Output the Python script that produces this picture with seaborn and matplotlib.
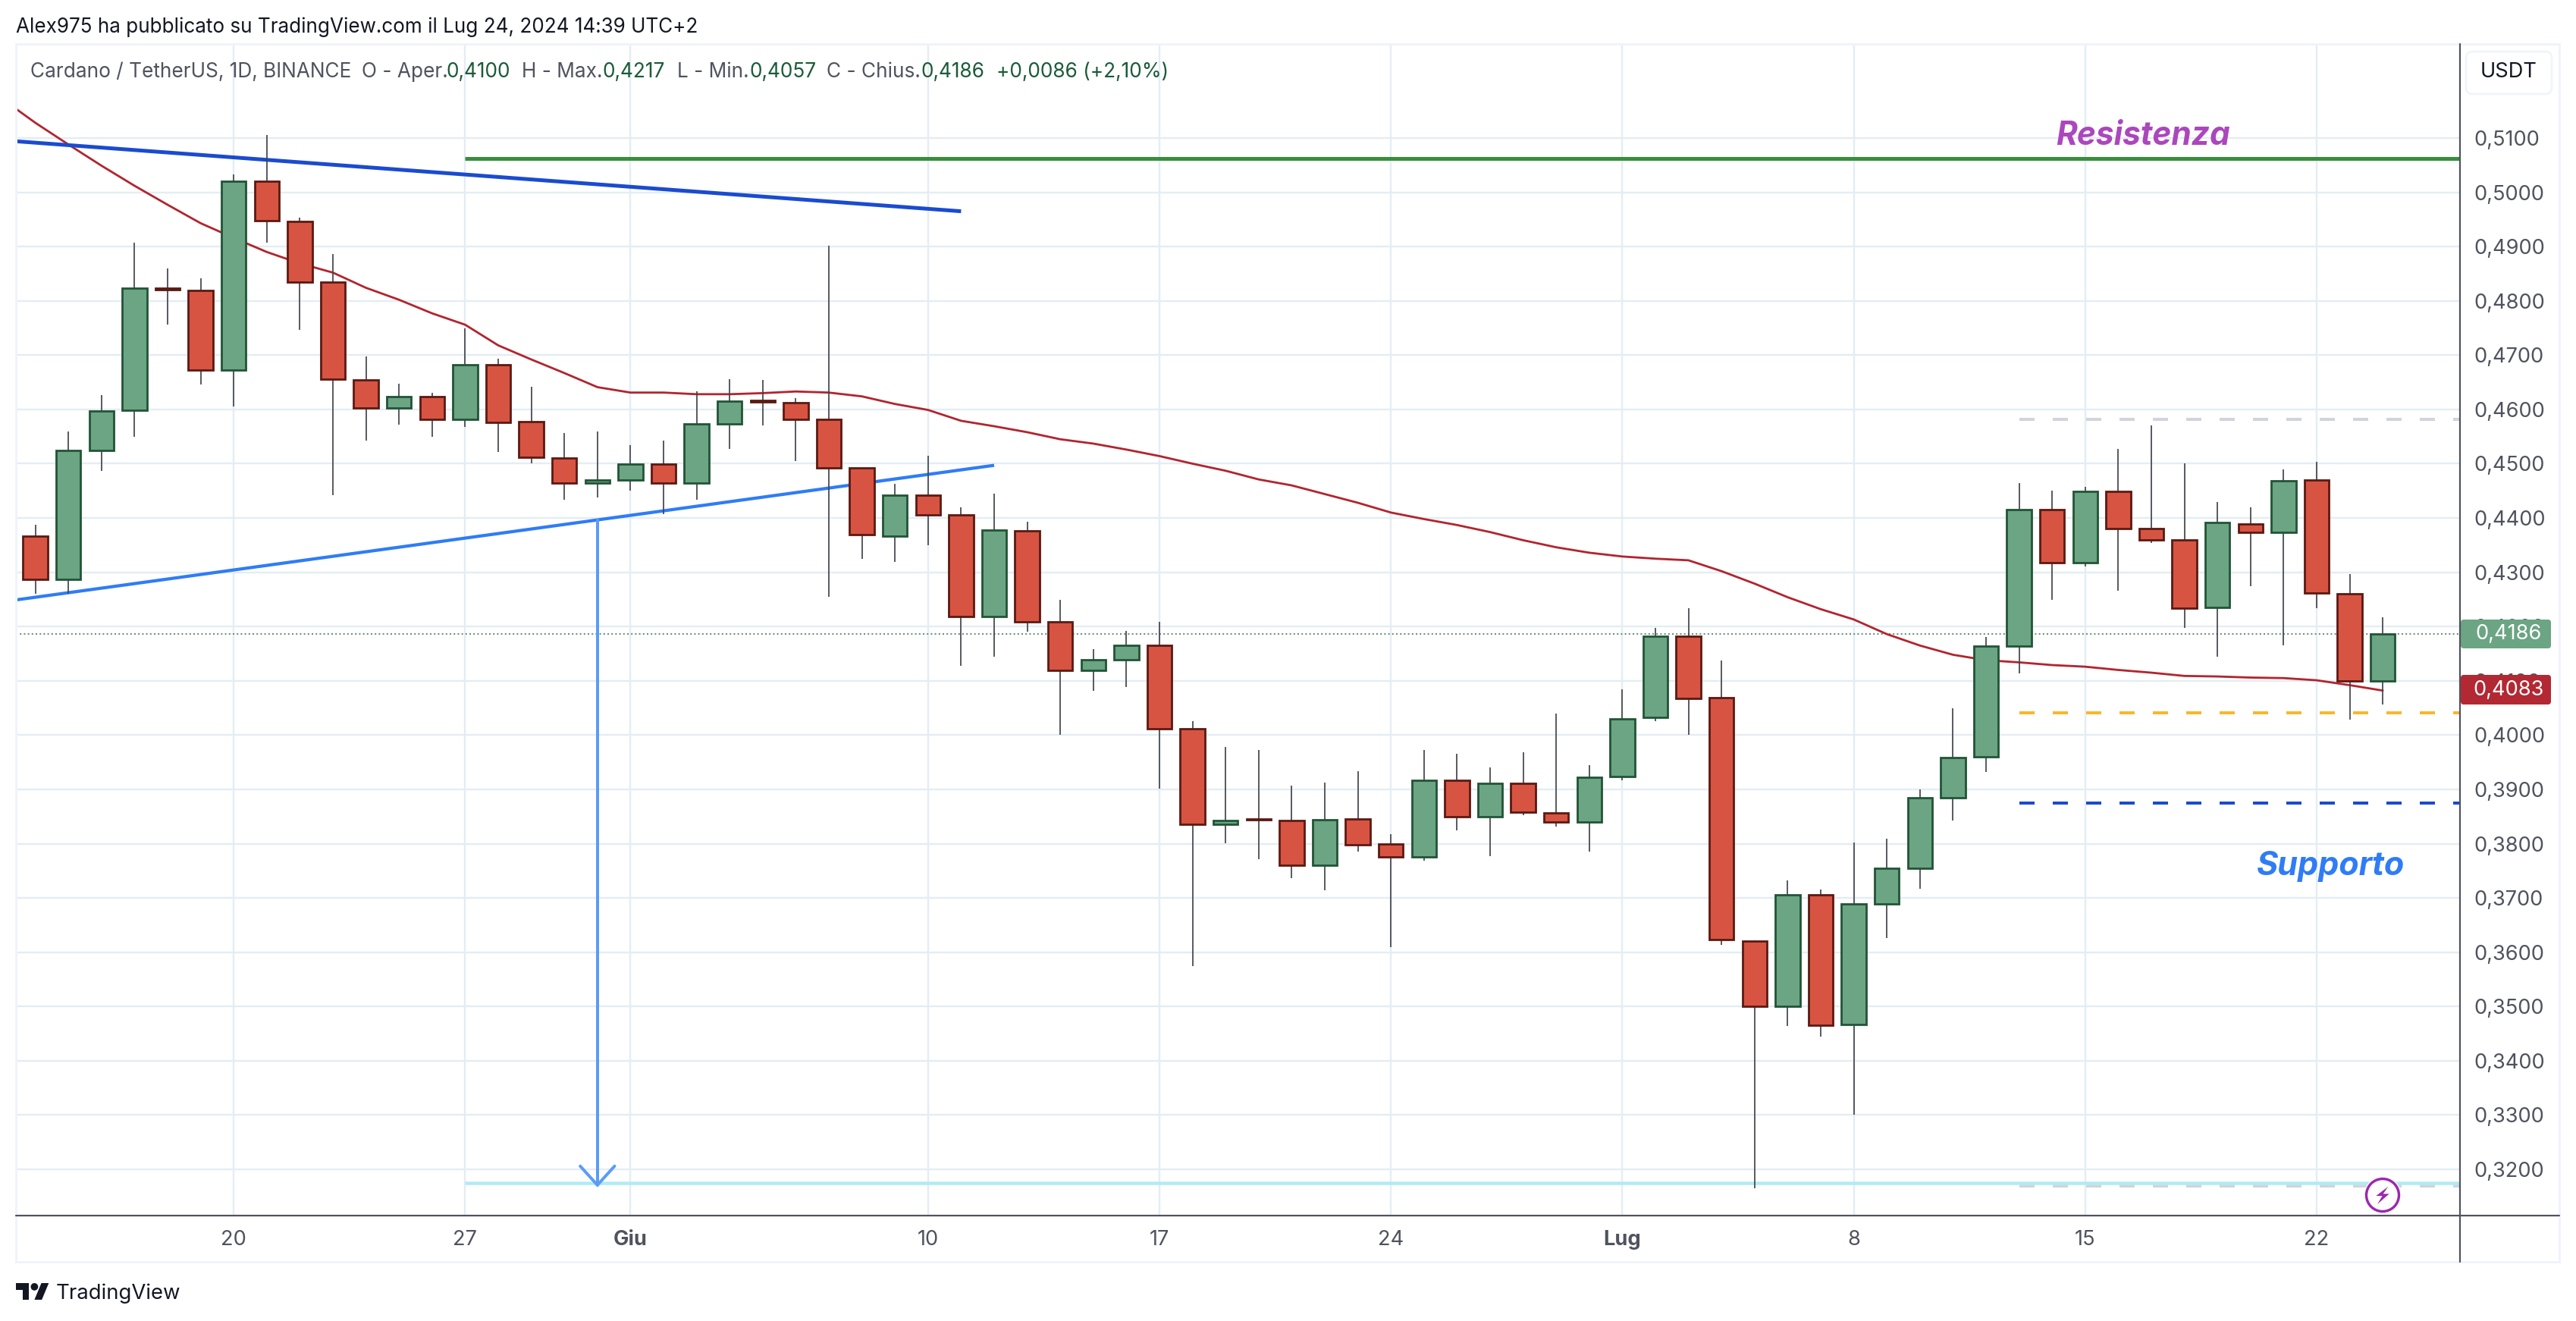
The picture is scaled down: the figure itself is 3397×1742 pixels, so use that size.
import numpy as np
import pandas as pd
import seaborn as sns
import matplotlib
matplotlib.use("Agg")
import matplotlib.pyplot as plt
from matplotlib.lines import Line2D
from matplotlib.patches import Rectangle, FancyBboxPatch, Polygon, Circle
from matplotlib.transforms import Affine2D

# ---------- data ----------
start_date = "2024-05-14"
opens = [.4366,.4287,.4524,.4599,.4823,.4819,.4673,.5020,.4946,.4834,.4654,.4602,.4624,.4581,.4682,.4577,.4510,.4465,
         .4470,.4499,.4465,.4573,.4616,.4612,.4581,.4492,.4367,.4442,.4405,.4218,.4376,.4208,.4119,.4139,.4166,.4012,.3835,.3846,.3843,.3760,.3846,.3800,.3776,.3916,.3849,.3911,.3857,.3840,
         .3924,.4032,.4182,.4069,.3621,.3500,.3706,.3467,.3689,.3754,.3884,.3960,.4164,.4416,.4317,.4449,.4381,.4359,.4235,.4389,.4373,.4470,.4260,.4100]
closes = [.4287,.4524,.4597,.4823,.4821,.4673,.5020,.4947,.4835,.4656,.4602,.4624,.4581,.4682,.4576,.4512,.4465,.4470,
          .4499,.4465,.4573,.4615,.4614,.4582,.4492,.4369,.4442,.4406,.4219,.4378,.4209,.4119,.4139,.4166,.4012,.3836,.3843,.3844,.3760,.3844,.3798,.3776,.3916,.3849,.3911,.3858,.3840,.3922,
          .4030,.4182,.4068,.3623,.3500,.3706,.3466,.3689,.3754,.3884,.3958,.4164,.4416,.4317,.4449,.4381,.4360,.4234,.4391,.4373,.4468,.4262,.4099,.4186]
highs = [.4387,.4559,.4627,.4907,.4860,.4841,.5033,.5106,.4953,.4886,.4698,.4648,.4631,.4750,.4694,.4642,.4557,.4560,
         .4534,.4542,.4633,.4656,.4655,.4621,.4901,.4492,.4463,.4514,.4419,.4445,.4393,.4249,.4158,.4192,.4209,.4026,.3978,.3973,.3907,.3912,.3933,.3817,.3973,.3965,.3940,.3969,.4039,.3944,
         .4085,.4197,.4234,.4138,.3622,.3732,.3715,.3802,.3809,.3900,.4049,.4181,.4465,.4451,.4458,.4527,.4571,.4500,.4430,.4419,.4490,.4504,.4296,.4217]
lows = [.4261,.4261,.4487,.4550,.4756,.4646,.4606,.4907,.4747,.4442,.4542,.4572,.4550,.4568,.4521,.4500,.4433,.4438,
        .4451,.4407,.4434,.4527,.4571,.4505,.4255,.4324,.4319,.4350,.4127,.4144,.4190,.4000,.4081,.4089,.3902,.3575,.3801,.3772,.3736,.3714,.3785,.3609,.3769,.3824,.3777,.3852,.3831,.3785,
        .3916,.4026,.4000,.3614,.3165,.3464,.3444,.3300,.3626,.3717,.3843,.3932,.4114,.4249,.4311,.4266,.4354,.4198,.4144,.4275,.4165,.4234,.4028,.4057]
ma_values = [.5172,.5128,.5088,.5049,.5012,.4977,.4943,.4916,.4890,.4869,.4852,.4824,.4802,.4777,.4756,.4718,.4692,.4667,.4641,
             .4631,.4631,.4628,.4628,.4630,.4633,.4631,.4624,.4610,.4599,.4579,.4569,.4558,.4545,.4537,.4526,.4514,.4500,.4487,.4471,.4460,.4444,.4428,.4410,.4398,.4387,.4374,.4359,.4346,.4336,
             .4329,.4325,.4322,.4302,.4279,.4254,.4232,.4213,.4186,.4165,.4148,.4138,.4134,.4129,.4126,.4120,.4115,.4109,.4108,.4106,.4105,.4101,.4092,.4082]
price_ticks = [.32,.33,.34,.35,.36,.37,.38,.39,.40,.41,.42,.43,.44,.45,.46,.47,.48,.49,.50,.51]
date_tick_days = [6,13,18,27,34,41,48,55,62,69]
date_tick_labels = ["20","27","Giu","10","17","24","Lug","8","15","22"]
bold_labels = ["Giu","Lug"]
last_price = .4186
ma_last = .4083
resistance_level = .5062
support_low_level = .3175
dash_levels = [.4581,.4041,.3875,.3169]
dark_trend_x = [-0.59,28]
dark_trend_y = [.5094,.4965]
light_trend_x = [-0.59,29]
light_trend_y = [.4249,.4497]
arrow_day = 17
arrow_from = .4396
arrow_to = .3171

# ---------- theme ----------
sns.set_theme(style="white")
plt.rcParams["font.family"] = ["Inter", "DejaVu Sans"]
W, H = 3397, 1742
px = 0.72
fig = plt.figure(figsize=(W/100, H/100), dpi=100, facecolor="white")
T = Affine2D().scale(1, -1).translate(0, H)   # figure pixels from the top-left
ax = fig.add_axes([21/W, 1-1603/H, (3244-21)/W, (1603-58)/H])
ax.set_facecolor("white")
x0 = (21-46.6)/43.6
x1 = (3244-46.6)/43.6
ax.set_xlim(x0, x1)
ax.set_ylim(.32-61/7160, .51+124/7160)
for s in ax.spines.values():
    s.set_visible(False)
ax.set_axisbelow(True)
GRID = "#e4edf4"
AXFS = 19.6
ax.yaxis.tick_right()
ax.set_yticks(price_ticks)
ax.set_yticklabels([f"{v:.4f}".replace(".", ",") for v in price_ticks], fontsize=AXFS, color="#50535e")
ax.set_xticks(date_tick_days)
ax.set_xticklabels(date_tick_labels, fontsize=AXFS, color="#50535e")
for lab in ax.get_xticklabels():
    if lab.get_text() in bold_labels:
        lab.set_fontweight("bold")
ax.tick_params(axis="y", length=0, pad=13)
ax.tick_params(axis="x", length=0, pad=14)
ax.grid(True, color=GRID, lw=2.4*px)

# ---------- drawings ----------
days = np.arange(len(opens))
ma_frame = pd.DataFrame({"day": np.arange(-1, len(opens)), "ma": ma_values})
sns.lineplot(data=ma_frame, x="day", y="ma", ax=ax, color="#b2252f", lw=2.8*px, zorder=2, errorbar=None, legend=False)
ax.set_xlabel(""); ax.set_ylabel("")
ax.set_xlim(x0, x1)
ax.plot(dark_trend_x, dark_trend_y, color="#1a4bd0", lw=5*px, zorder=3, solid_capstyle="butt")
ax.plot(light_trend_x, light_trend_y, color="#2f7cf6", lw=4.2*px, zorder=3, solid_capstyle="butt")
ax.plot([13, x1], [resistance_level]*2, color="#388e3c", lw=5*px, zorder=3, solid_capstyle="butt")
ax.plot([13, x1], [support_low_level]*2, color="#b2ebf2", lw=4.5*px, zorder=3, solid_capstyle="butt")
ax.plot([arrow_day, arrow_day], [arrow_from, arrow_to], color="#5b9cf6", lw=4*px, zorder=3)
ax.plot([arrow_day-.52, arrow_day, arrow_day+.52], [arrow_to+.0035, arrow_to, arrow_to+.0035], color="#5b9cf6", lw=4*px, zorder=3)
for lvl, col in zip(dash_levels, ["#d1d4dc", "#fbb62a", "#1a4bd0", "#d1d4dc"]):
    ax.plot([60, x1], [lvl]*2, color=col, lw=4*px, zorder=2.5, dashes=(20/4, 24/4), dash_capstyle="butt")
ax.plot([x0, x1], [last_price]*2, color="#5f9478", lw=2*px, zorder=1.5, dashes=(1, 1.6))

# ---------- candles ----------
opens_a, closes_a = np.array(opens), np.array(closes)
up = closes_a >= opens_a
ax.vlines(days, lows, highs, color="#3f424a", lw=1.7*px, zorder=4)
ax.bar(days[up], np.maximum(closes_a[up]-opens_a[up], .0002), bottom=opens_a[up], width=.74,
       color="#6ba583", edgecolor="#225437", lw=2.8*px, zorder=5)
ax.bar(days[~up], np.maximum(opens_a[~up]-closes_a[~up], .0002), bottom=closes_a[~up], width=.74,
       color="#d75442", edgecolor="#5b1a13", lw=2.8*px, zorder=5)

# ---------- frame and pane lines ----------
fig.add_artist(Rectangle((21, 58), 3375-21, 1664-58, transform=T, fill=False, ec="#f0f3fa", lw=3*px))
fig.add_artist(Line2D([3244, 3244], [58, 1664], transform=T, color="#50535e", lw=2.2*px))
fig.add_artist(Line2D([21, 3375], [1603, 1603], transform=T, color="#50535e", lw=2.2*px))

# ---------- price tags (over the axis labels) ----------
for y0, y1, col, val in [(817, 855, "#6ba583", last_price), (890, 929, "#b22833", ma_last)]:
    tag = FancyBboxPatch((3245, y0), 3364-3245, y1-y0, boxstyle="round,pad=0,rounding_size=4", transform=T,
                         fc=col, ec="none", zorder=10, clip_on=False)
    ax.add_patch(tag)
    ax.text(3308, (y0+y1)/2, f"{val:.4f}".replace(".", ","), transform=T, color="white", fontsize=AXFS,
            ha="center", va="center", zorder=11, clip_on=False)

# ---------- bolt mark ----------
cx, cy = 3142, 1576
ax.add_patch(Circle((cx, cy), 24.5, transform=T, fc="white", ec="none", zorder=7, clip_on=False))
ax.add_patch(Circle((cx, cy), 21.5, transform=T, fc="white", ec="#9c27b0", lw=3.4*px, zorder=8, clip_on=False))
bolt = np.array([(748,493),(700,530),(725,530),(705,563),(752,522),(728,522)], float)
bolt = (bolt-[726,527])/3+[cx, cy]
ax.add_patch(Polygon(bolt, closed=True, transform=T, fc="#9c27b0", ec="none", zorder=9, clip_on=False))

# ---------- text ----------
fig.text(21, 36, "Alex975 ha pubblicato su TradingView.com il Lug 24, 2024 14:39 UTC+2", transform=T,
         fontsize=18.75, color="#131722", va="center")
GREY, DK = "#50535e", "#1a5c37"
legend_pieces = [("Cardano / TetherUS, 1D, BINANCE", 40, GREY), ("O - Aper.", 477, GREY), ("0,4100", 589, DK),
                 ("H - Max.", 688, GREY), ("0,4217", 795, DK), ("L - Min.", 893, GREY), ("0,4057", 988, DK),
                 ("C - Chius.", 1090, GREY), ("0,4186", 1215, DK), ("+0,0086 (+2,10%)", 1314, DK)]
for s, xp, c in legend_pieces:
    fig.text(xp, 95, s, transform=T, fontsize=18.9, color=c, va="center")
fig.text(2826, 179, "Resistenza", transform=T, fontsize=30.5, color="#ab47bc", fontweight="bold", style="italic",
         ha="center", va="center")
fig.text(3073, 1142, "Supporto", transform=T, fontsize=31, color="#2f7cf6", fontweight="bold", style="italic",
         ha="center", va="center")

# USDT button
fig.add_artist(FancyBboxPatch((3252, 68), 113, 56, boxstyle="round,pad=0,rounding_size=8", transform=T,
                              fc="white", ec="#f0f3fa", lw=2.5*px))
fig.text(3308, 95, "USDT", transform=T, fontsize=AXFS, color="#131722", ha="center", va="center")

# TradingView logo
k, lx, ly = 1.22, 21, 1692-4*1.22
pts1 = np.array([(14,22),(7,22),(7,11),(0,11),(0,4),(14,4)], float)*k+[lx, ly]
pts2 = np.array([(28,22),(20,22),(27.5,4),(35.5,4)], float)*k+[lx, ly]
fig.add_artist(Polygon(pts1, closed=True, transform=T, fc="#131722", ec="none"))
fig.add_artist(Polygon(pts2, closed=True, transform=T, fc="#131722", ec="none"))
fig.add_artist(Circle((20*k+lx, 8*k+ly), 4*k, transform=T, fc="#131722", ec="none"))
fig.text(74, 1706, "TradingView", transform=T, fontsize=19.8, color="#131722", va="center")

fig.savefig("out.png", dpi=100, facecolor="white")
